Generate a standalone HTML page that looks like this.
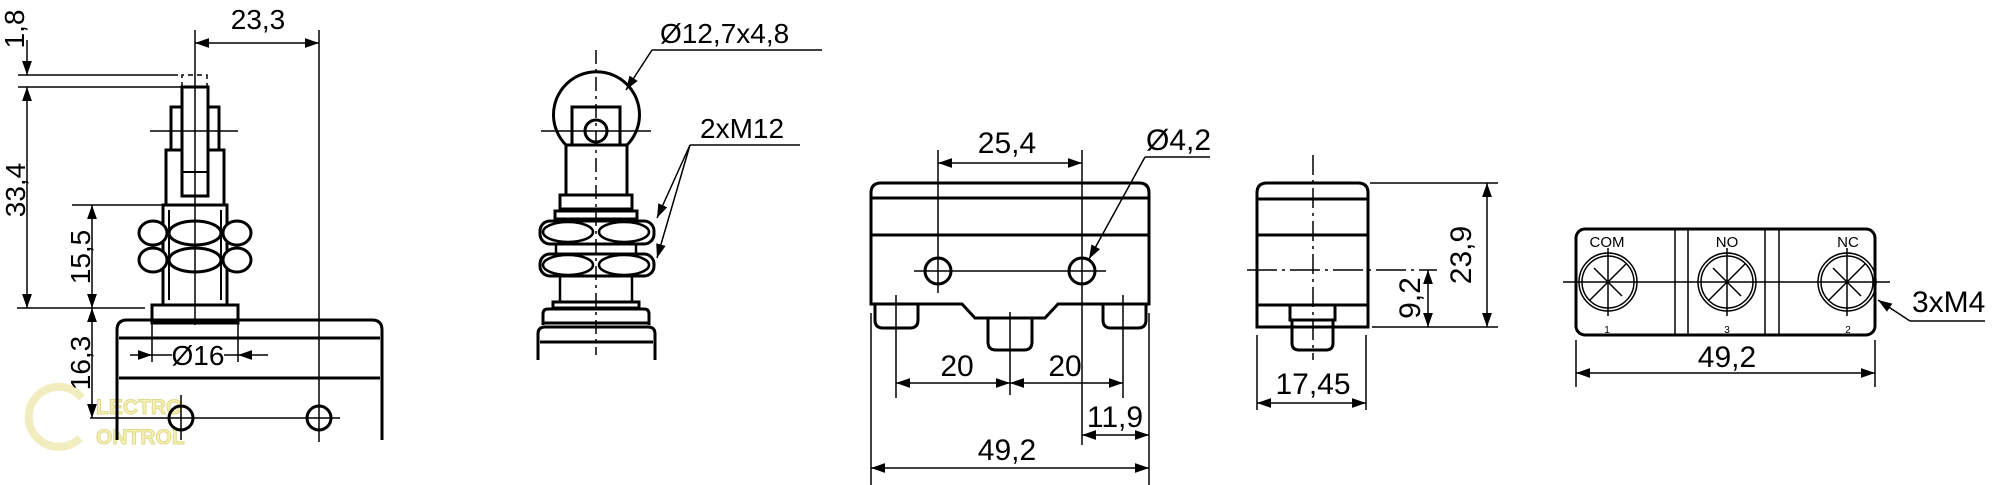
<!DOCTYPE html>
<html><head><meta charset="utf-8"><style>
html,body{margin:0;padding:0;background:#fff}
svg{display:block}
text{font-family:"Liberation Sans",sans-serif;fill:#000}
</style></head><body>
<svg width="2000" height="485" viewBox="0 0 2000 485" xmlns="http://www.w3.org/2000/svg">
<defs>
<marker id="a" viewBox="0 0 10 10" refX="10" refY="5" markerWidth="14" markerHeight="14" markerUnits="userSpaceOnUse" orient="auto-start-reverse"><path d="M0,1.5 L10,5 L0,8.5 Z" fill="#000"/></marker>
</defs>
<rect width="2000" height="485" fill="#fff"/>

<!-- watermark -->
<g opacity="0.45" fill="none" stroke="#e0d870" stroke-width="8">
  <path d="M82,398 A30,30 0 1 0 80,438"/>
</g>
<text x="96" y="414" font-size="21" font-weight="bold" style="fill:#f4eea0;stroke:#d8d070;stroke-width:1;opacity:0.8">LECTRO</text>
<text x="96" y="444" font-size="21" font-weight="bold" style="fill:#f4eea0;stroke:#d8d070;stroke-width:1;opacity:0.8">ONTROL</text>

<!-- ============ LEFT VIEW ============ -->
<g fill="none" stroke="#000" stroke-width="3">
  <rect x="182" y="87" width="26" height="109"/>
  <line x1="182" y1="172" x2="208" y2="172" stroke-width="2"/>
  <path d="M182,150 H171 V107 H182 M208,107 H219 V150 H208"/>
  <path d="M171,150 H166 V205 H224 V150 H219"/>
  <rect x="163" y="205" width="64" height="100"/>
  <line x1="169" y1="210" x2="169" y2="300" stroke-width="2"/>
  <line x1="221" y1="210" x2="221" y2="300" stroke-width="2"/>
  <g fill="#fff">
    <ellipse cx="153" cy="233" rx="14" ry="12"/><ellipse cx="237" cy="233" rx="14" ry="12"/><ellipse cx="195" cy="233" rx="26" ry="12"/>
    <ellipse cx="153" cy="260" rx="14" ry="12"/><ellipse cx="237" cy="260" rx="14" ry="12"/><ellipse cx="195" cy="260" rx="26" ry="12"/>
  </g>
  <rect x="152" y="305" width="86" height="18"/>
  <path d="M117,440 V330 Q117,320 127,320 H372 Q382,320 382,330 V440"/>
  <line x1="119" y1="338" x2="380" y2="338"/>
  <line x1="119" y1="378" x2="380" y2="378"/>
  <circle cx="181" cy="418" r="12"/><circle cx="319" cy="418" r="12"/>
</g>
<path d="M182,87 V75 H207 V87" fill="none" stroke="#000" stroke-width="1.5" stroke-dasharray="5,4"/>
<g stroke="#000" stroke-width="1.5" fill="none">
  <line x1="195" y1="30" x2="195" y2="325"/>
  <line x1="150" y1="131" x2="238" y2="131"/>
  <line x1="90" y1="418" x2="340" y2="418"/>
  <line x1="181" y1="395" x2="181" y2="440"/>
  <line x1="319" y1="30" x2="319" y2="442"/>
  <line x1="195" y1="43" x2="319" y2="43" marker-start="url(#a)" marker-end="url(#a)"/>
  <line x1="18" y1="75" x2="178" y2="75"/>
  <line x1="18" y1="87" x2="182" y2="87"/>
  <line x1="27" y1="40" x2="27" y2="75" marker-end="url(#a)"/>
  <line x1="27" y1="87" x2="27" y2="308" marker-start="url(#a)" marker-end="url(#a)"/>
  <line x1="17" y1="308" x2="145" y2="308"/>
  <line x1="72" y1="205" x2="168" y2="205"/>
  <line x1="92" y1="205" x2="92" y2="308" marker-start="url(#a)" marker-end="url(#a)"/>
  <line x1="92" y1="308" x2="92" y2="418" marker-start="url(#a)" marker-end="url(#a)"/>
  <line x1="152" y1="323" x2="152" y2="362"/>
  <line x1="238" y1="323" x2="238" y2="362"/>
  <line x1="130" y1="355" x2="152" y2="355" marker-end="url(#a)"/>
  <line x1="268" y1="355" x2="238" y2="355" marker-end="url(#a)"/>
  <line x1="152" y1="355" x2="172" y2="355"/>
  <line x1="224" y1="355" x2="238" y2="355"/>
</g>
<text x="258" y="29" font-size="28" text-anchor="middle">23,3</text>
<text transform="translate(24,29) rotate(-90)" font-size="28" text-anchor="middle">1,8</text>
<text transform="translate(25,190) rotate(-90)" font-size="28" text-anchor="middle">33,4</text>
<text transform="translate(90,257) rotate(-90)" font-size="28" text-anchor="middle">15,5</text>
<text transform="translate(90,363) rotate(-90)" font-size="28" text-anchor="middle">16,3</text>
<text x="198" y="365" font-size="28" text-anchor="middle">Ø16</text>

<!-- ============ ROLLER VIEW ============ -->
<g fill="none" stroke="#000" stroke-width="3">
  <path d="M566,145 A43,43 0 1 1 627,145"/>
  <rect x="572" y="107" width="48" height="38" fill="#fff"/>
  <circle cx="596" cy="131" r="11"/>
  <rect x="566" y="145" width="61" height="50"/>
  <rect x="560" y="195" width="72" height="14"/>
  <rect x="555" y="211" width="82" height="8"/>
  <rect x="540" y="221" width="114" height="23" rx="10" fill="#fff"/>
  <rect x="540" y="254" width="114" height="22" rx="10" fill="#fff"/>
  <ellipse cx="568" cy="232" rx="25" ry="10" stroke-width="2.5"/><ellipse cx="624" cy="232" rx="25" ry="10" stroke-width="2.5"/>
  <ellipse cx="568" cy="265" rx="25" ry="10" stroke-width="2.5"/><ellipse cx="624" cy="265" rx="25" ry="10" stroke-width="2.5"/>
  <path d="M560,276 V303 M632,276 V303" stroke-width="2.5"/>
  <path d="M556,244 V254 M636,244 V254" stroke-width="2.5"/>
  <rect x="553" y="302" width="86" height="6"/>
  <path d="M543,325 V314 Q543,309 548,309 H644 Q649,309 649,314 V325"/>
  <line x1="543" y1="323" x2="649" y2="323"/>
  <path d="M538,360 V334 Q538,327 545,327 H648 Q655,327 655,334 V360"/>
  <line x1="540" y1="342" x2="653" y2="342"/>
</g>
<g stroke="#000" stroke-width="1.5" fill="none">
  <line x1="596" y1="50" x2="596" y2="355" stroke-dasharray="14,5,3,5"/>
  <line x1="541" y1="131" x2="651" y2="131"/>
  <line x1="652" y1="50" x2="822" y2="50"/>
  <line x1="652" y1="50" x2="626" y2="90" marker-end="url(#a)"/>
  <line x1="690" y1="145" x2="800" y2="145"/>
  <line x1="690" y1="145" x2="657" y2="218" marker-end="url(#a)"/>
  <line x1="690" y1="145" x2="657" y2="258" marker-end="url(#a)"/>
</g>
<text x="660" y="43" font-size="28">Ø12,7x4,8</text>
<text x="700" y="138" font-size="28">2xM12</text>

<!-- ============ FRONT VIEW ============ -->
<g fill="none" stroke="#000" stroke-width="3">
  <path d="M871,304 V193 Q871,183 881,183 H1139 Q1149,183 1149,193 V304 H1058 L1045,318 H975 L962,304 Z"/>
  <line x1="871" y1="198" x2="1149" y2="198"/>
  <line x1="871" y1="235" x2="1149" y2="235"/>
  <circle cx="938" cy="271" r="13"/><circle cx="1082" cy="271" r="13"/>
  <path d="M875,304 V320 Q875,328 883,328 H910 Q918,328 918,320 V304"/>
  <path d="M1103,304 V320 Q1103,328 1111,328 H1138 Q1146,328 1146,320 V304"/>
  <path d="M988,318 V342 Q988,350 996,350 H1024 Q1032,350 1032,342 V318"/>
</g>
<g stroke="#000" stroke-width="1.5" fill="none">
  <line x1="914" y1="271" x2="1106" y2="271"/>
  <line x1="938" y1="150" x2="938" y2="293"/>
  <line x1="1082" y1="150" x2="1082" y2="445"/>
  <line x1="938" y1="163" x2="1082" y2="163" marker-start="url(#a)" marker-end="url(#a)"/>
  <line x1="1145" y1="157" x2="1210" y2="157"/>
  <line x1="1145" y1="157" x2="1089" y2="259" marker-end="url(#a)"/>
  <line x1="896" y1="295" x2="896" y2="398"/>
  <line x1="1010" y1="312" x2="1010" y2="395"/>
  <line x1="1123" y1="295" x2="1123" y2="398"/>
  <line x1="896" y1="383" x2="1010" y2="383" marker-start="url(#a)" marker-end="url(#a)"/>
  <line x1="1010" y1="383" x2="1123" y2="383" marker-start="url(#a)" marker-end="url(#a)"/>
  <line x1="871" y1="313" x2="871" y2="485"/>
  <line x1="1149" y1="313" x2="1149" y2="485"/>
  <line x1="1082" y1="435" x2="1149" y2="435" marker-start="url(#a)" marker-end="url(#a)"/>
  <line x1="871" y1="468" x2="1149" y2="468" marker-start="url(#a)" marker-end="url(#a)"/>
</g>
<text x="1007" y="153" font-size="30" text-anchor="middle">25,4</text>
<text x="1146" y="150" font-size="30">Ø4,2</text>
<text x="957" y="376" font-size="30" text-anchor="middle">20</text>
<text x="1065" y="376" font-size="30" text-anchor="middle">20</text>
<text x="1115" y="427" font-size="30" text-anchor="middle">11,9</text>
<text x="1007" y="460" font-size="30" text-anchor="middle">49,2</text>

<!-- ============ SIDE VIEW ============ -->
<g fill="none" stroke="#000" stroke-width="3">
  <path d="M1257,327 V193 Q1257,183 1267,183 H1358 Q1368,183 1368,193 V327 Z"/>
  <line x1="1257" y1="199" x2="1368" y2="199"/>
  <line x1="1257" y1="235" x2="1368" y2="235"/>
  <line x1="1257" y1="305" x2="1368" y2="305"/>
  <path d="M1290,305 V320 H1335 V305"/>
  <path d="M1292,320 V343 Q1292,350 1299,350 H1326 Q1333,350 1333,343 V320"/>
</g>
<g stroke="#000" stroke-width="1.5" fill="none">
  <line x1="1313" y1="155" x2="1313" y2="360" stroke-dasharray="20,5,3,5"/>
  <line x1="1247" y1="270" x2="1437" y2="270" stroke-dasharray="30,5,3,5"/>
  <line x1="1370" y1="183" x2="1498" y2="183"/>
  <line x1="1372" y1="327" x2="1498" y2="327"/>
  <line x1="1487" y1="183" x2="1487" y2="327" marker-start="url(#a)" marker-end="url(#a)"/>
  <line x1="1428" y1="270" x2="1428" y2="327" marker-start="url(#a)" marker-end="url(#a)"/>
  <line x1="1257" y1="335" x2="1257" y2="410"/>
  <line x1="1366" y1="335" x2="1366" y2="410"/>
  <line x1="1257" y1="403" x2="1366" y2="403" marker-start="url(#a)" marker-end="url(#a)"/>
</g>
<text transform="translate(1471,255) rotate(-90)" font-size="30" text-anchor="middle">23,9</text>
<text transform="translate(1420,298) rotate(-90)" font-size="30" text-anchor="middle">9,2</text>
<text x="1313" y="394" font-size="30" text-anchor="middle">17,45</text>

<!-- ============ TERMINAL VIEW ============ -->
<g fill="none" stroke="#000">
  <rect x="1576" y="229" width="299" height="106" rx="9" stroke-width="3"/>
  <g stroke-width="1.5">
    <line x1="1675" y1="229" x2="1675" y2="335"/><line x1="1688" y1="229" x2="1688" y2="335"/>
    <line x1="1765" y1="229" x2="1765" y2="335"/><line x1="1779" y1="229" x2="1779" y2="335"/>
    <line x1="1563" y1="282" x2="1890" y2="282"/>
    <circle cx="1608" cy="282" r="29"/><circle cx="1608" cy="282" r="26"/>
    <circle cx="1727" cy="282" r="29"/><circle cx="1727" cy="282" r="26"/>
    <circle cx="1847" cy="282" r="29"/><circle cx="1847" cy="282" r="26"/>
    <path d="M1590,300 L1626,264 M1594,268 L1622,296 M1608,248 V316"/>
    <path d="M1709,300 L1745,264 M1713,268 L1741,296 M1727,248 V316"/>
    <path d="M1829,300 L1865,264 M1833,268 L1861,296 M1847,248 V316"/>
    <line x1="1910" y1="321" x2="1985" y2="321"/>
    <line x1="1910" y1="321" x2="1878" y2="300" marker-end="url(#a)"/>
    <line x1="1576" y1="340" x2="1576" y2="387"/>
    <line x1="1875" y1="340" x2="1875" y2="387"/>
    <line x1="1576" y1="373" x2="1875" y2="373" marker-start="url(#a)" marker-end="url(#a)"/>
  </g>
</g>
<text x="1607" y="247" font-size="15" text-anchor="middle">COM</text>
<text x="1727" y="247" font-size="15" text-anchor="middle">NO</text>
<text x="1848" y="247" font-size="15" text-anchor="middle">NC</text>
<text x="1607" y="333" font-size="10" text-anchor="middle">1</text>
<text x="1727" y="333" font-size="10" text-anchor="middle">3</text>
<text x="1848" y="333" font-size="10" text-anchor="middle">2</text>
<text x="1912" y="312" font-size="30">3xM4</text>
<text x="1727" y="367" font-size="30" text-anchor="middle">49,2</text>
</svg>
</body></html>
